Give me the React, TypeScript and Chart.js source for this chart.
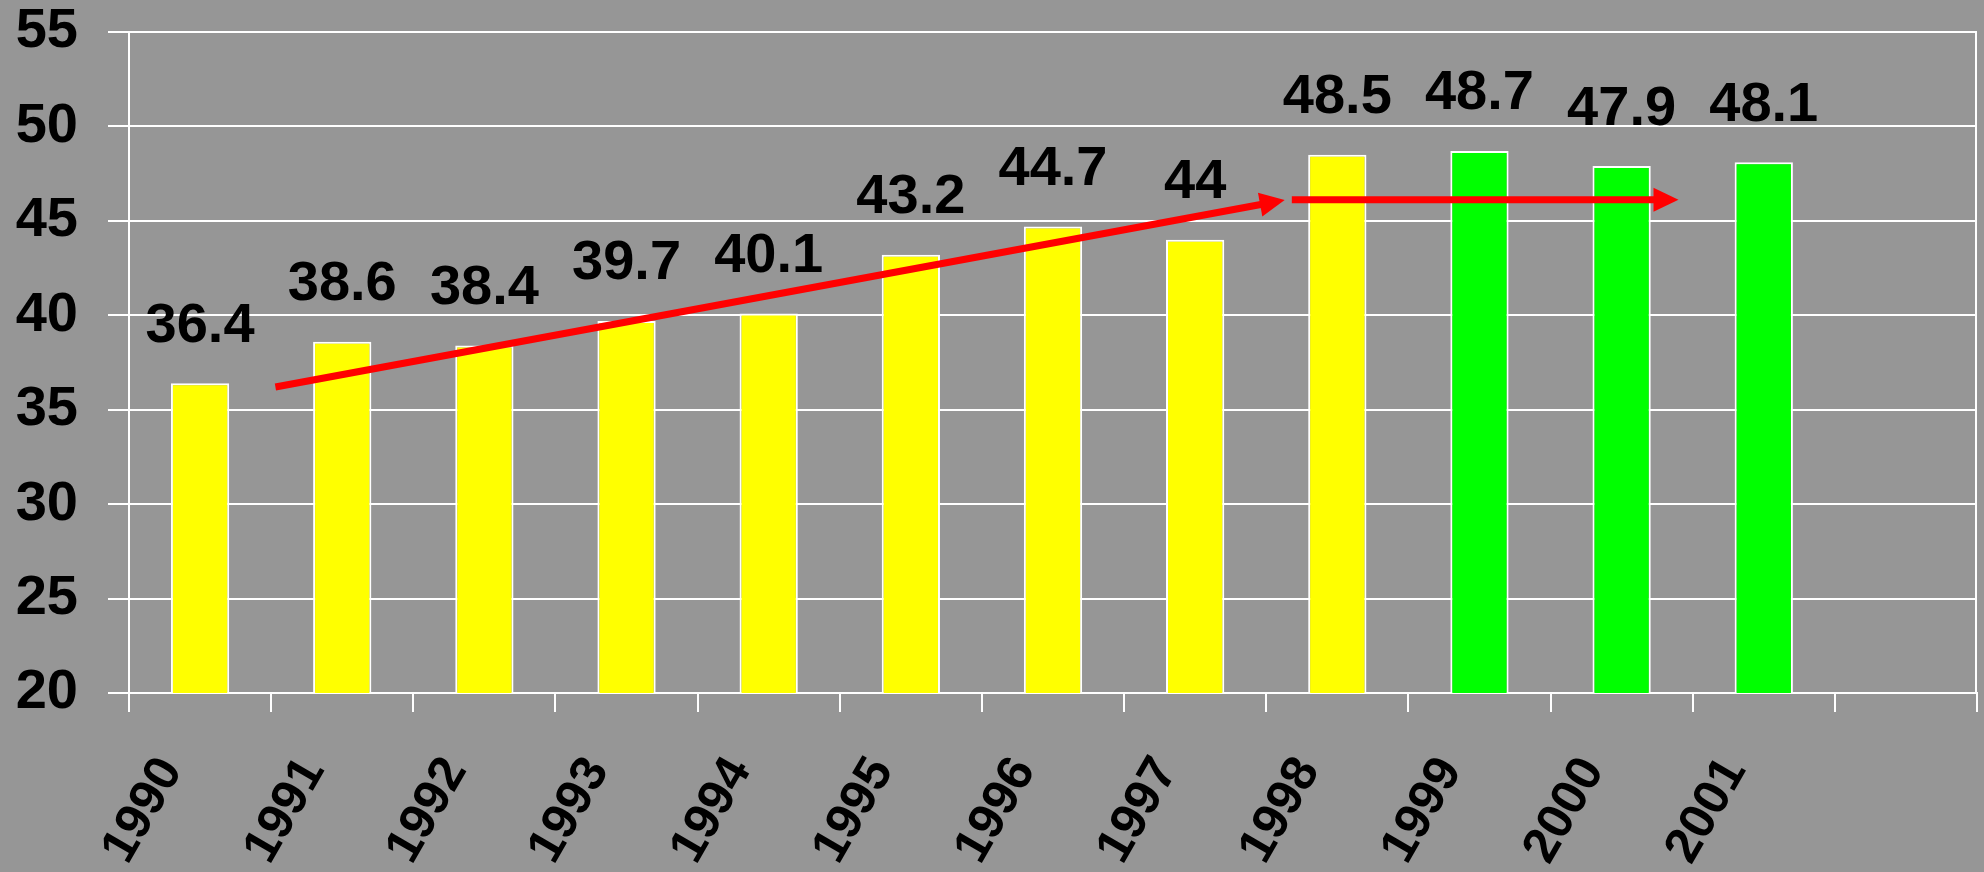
import React, { useEffect, useRef } from "react";
import { Chart, registerables } from "chart.js";

Chart.register(...registerables);

// ---- data ----
const years = ["1990", "1991", "1992", "1993", "1994", "1995", "1996", "1997", "1998", "1999", "2000", "2001", ""];
const values = [36.4, 38.6, 38.4, 39.7, 40.1, 43.2, 44.7, 44.0, 48.5, 48.7, 47.9, 48.1, null];
const firstGreenYear = "1999";
const yTickMin = 20;
const yTickMax = 55;
const yTickStep = 5;

// trend arrows, in data units (category index, value)
const arrowStartX = [0.53, 7.68];
const arrowStartY = [36.2, 46.12];
const arrowEndX = [7.63, 10.4];
const arrowEndY = [46.1, 46.12];

const YELLOW = "#FFFF00";
const GREEN = "#00FF00";
const BG = "#969696";
const FONT = "'Liberation Sans', Arial, sans-serif";

const greenIdx = years.indexOf(firstGreenYear);
const barColors = years.map((_, i) => (i >= greenIdx ? GREEN : YELLOW));

const labelPlugin = {
  id: "valueLabels",
  afterDatasetsDraw(chart: any) {
    const ctx = chart.ctx;
    const meta = chart.getDatasetMeta(0);
    ctx.save();
    ctx.font = `bold 56px ${FONT}`;
    ctx.fillStyle = "#000";
    ctx.textAlign = "center";
    ctx.textBaseline = "middle";
    meta.data.forEach((bar: any, i: number) => {
      const v = values[i];
      if (v === null || v === undefined) return;
      ctx.fillText(String(v), bar.x, bar.y - 57);
    });
    ctx.restore();
  },
};

const arrowPlugin = {
  id: "arrows",
  afterDatasetsDraw(chart: any) {
    const ctx = chart.ctx;
    const xs = chart.scales.x;
    const ys = chart.scales.y;
    const { chartArea } = chart;
    ctx.save();
    // right border
    ctx.strokeStyle = "#FFFFFF";
    ctx.lineWidth = 2;
    ctx.beginPath();
    ctx.moveTo(chartArea.right - 1, chartArea.top);
    ctx.lineTo(chartArea.right - 1, chartArea.bottom);
    ctx.stroke();

    ctx.strokeStyle = "#FF0000";
    ctx.fillStyle = "#FF0000";
    ctx.lineWidth = 7;
    for (let i = 0; i < arrowStartX.length; i++) {
      const x1 = xs.getPixelForValue(arrowStartX[i]);
      const y1 = ys.getPixelForValue(arrowStartY[i]);
      const x2 = xs.getPixelForValue(arrowEndX[i]);
      const y2 = ys.getPixelForValue(arrowEndY[i]);
      const ang = Math.atan2(y2 - y1, x2 - x1);
      const headLen = 25;
      const headHalf = 12;
      const bx = x2 - headLen * Math.cos(ang);
      const by = y2 - headLen * Math.sin(ang);
      ctx.beginPath();
      ctx.moveTo(x1, y1);
      ctx.lineTo(bx + 2 * Math.cos(ang), by + 2 * Math.sin(ang));
      ctx.stroke();
      ctx.beginPath();
      ctx.moveTo(x2, y2);
      ctx.lineTo(bx - headHalf * Math.sin(ang), by + headHalf * Math.cos(ang));
      ctx.lineTo(bx + headHalf * Math.sin(ang), by - headHalf * Math.cos(ang));
      ctx.closePath();
      ctx.fill();
    }
    ctx.restore();
  },
};

export default function App() {
  const ref = useRef<HTMLCanvasElement>(null);
  useEffect(() => {
    document.body.style.margin = "0";
    document.body.style.background = BG;
    const chart = new Chart(ref.current as HTMLCanvasElement, {
      type: "bar",
      data: {
        labels: years,
        datasets: [
          {
            data: values as any,
            backgroundColor: barColors,
            borderColor: "#FFFFFF",
            borderWidth: 2,
            barPercentage: 0.41,
            categoryPercentage: 1,
          },
        ],
      },
      options: {
        responsive: false,
        animation: false,
        devicePixelRatio: 1,
        layout: { padding: { top: 32, right: 7, left: 0, bottom: 0 } },
        plugins: { legend: { display: false }, tooltip: { enabled: false } },
        scales: {
          x: {
            grid: {
              display: true,
              drawOnChartArea: false,
              drawTicks: true,
              tickLength: 19,
              color: "#FFFFFF",
              lineWidth: 2,
            },
            border: { display: true, color: "#FFFFFF", width: 2 },
            ticks: {
              color: "#000",
              font: { family: FONT, size: 50, weight: "bold", lineHeight: 0.05 },
              minRotation: 60,
              maxRotation: 60,
              autoSkip: false,
              labelOffset: -29,
              padding: 50,
            },
            afterFit(scale: any) {
              scale.height = 179;
            },
          },
          y: {
            min: yTickMin,
            max: yTickMax,
            grid: {
              color: "#FFFFFF",
              lineWidth: 2,
              tickLength: 21,
              drawTicks: true,
            },
            border: { display: true, color: "#FFFFFF", width: 2 },
            ticks: {
              stepSize: yTickStep,
              color: "#000",
              padding: 30,
              font: { family: FONT, size: 56, weight: "bold", lineHeight: 0.05 },
            },
            afterFit(scale: any) {
              scale.width = 129;
            },
          },
        },
      },
      plugins: [labelPlugin, arrowPlugin],
    });
    return () => chart.destroy();
  }, []);
  return (
    <div style={{ width: 1984, height: 872, background: BG }}>
      <canvas ref={ref} width={1984} height={872} />
    </div>
  );
}
